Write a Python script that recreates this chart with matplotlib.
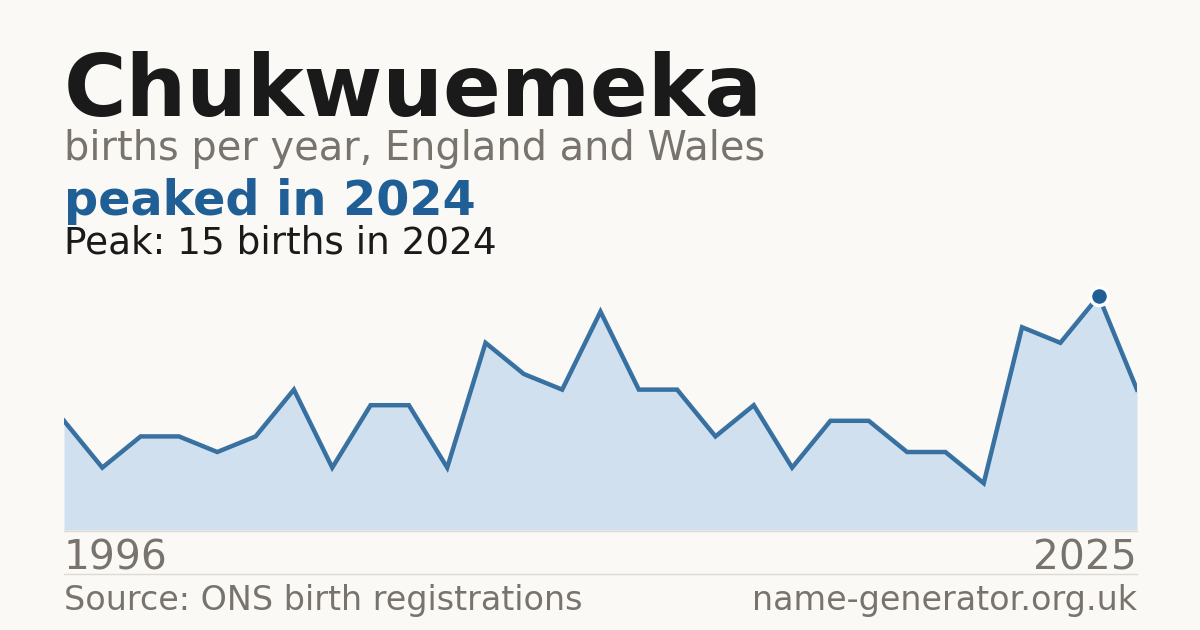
import matplotlib
matplotlib.use("Agg")
import matplotlib.pyplot as plt
from matplotlib.lines import Line2D

name = "Chukwuemeka"
subtitle = "births per year, England and Wales"
headline = "peaked in 2024"
peak_note = "Peak: 15 births in 2024"
first_year = "1996"
last_year = "2025"
source = "Source: ONS birth registrations"
site = "name-generator.org.uk"

# births per year (evenly spaced points)
births = [7, 4, 6, 6, 5, 6, 9, 4, 8, 8, 4, 12, 10, 9, 14,
          9, 9, 6, 8, 4, 7, 7, 5, 5, 3, 13, 12, 15, 9]
peak_index = 27

BG = "#faf9f5"
BLUE = "#1f5f96"
FILL = "#d0e0ef"
GREY = "#78736d"
DARK = "#1a1a1a"

W, H = 1200, 630


def fy(px):
    return 1 - px / H


fig = plt.figure(figsize=(W / 100, H / 100), dpi=100, facecolor=BG)

ax = fig.add_axes([64 / W, 1 - 530 / H, (1137 - 64) / W, 250 / H])
ax.set_facecolor(BG)
xs = list(range(len(births)))
ax.fill_between(xs, births, 0, color=FILL, lw=0)
ax.plot(xs, births, color=BLUE, lw=3.2, alpha=0.88, solid_joinstyle="miter")
ax.plot([peak_index], [births[peak_index]], "o", ms=13, color=BLUE,
        mec="white", mew=2.5, zorder=5)
ax.set_xlim(0, len(births) - 1)
ax.set_ylim(0, 15 * 250 / 234)
ax.axis("off")

# baseline and footer separator
fig.add_artist(Line2D([64 / W, 1137 / W], [fy(530.5), fy(530.5)], color="#dddad4", lw=1))
fig.add_artist(Line2D([64 / W, 1137 / W], [fy(574), fy(574)], color="#dddad4", lw=1))

x0 = 64 / W
fig.text(x0, fy(116), name, fontsize=61.5, fontweight="bold", color=DARK, va="baseline")
fig.text(x0, fy(160), subtitle, fontsize=28.7, color=GREY, va="baseline")
fig.text(x0, fy(215), headline, fontsize=34.4, fontweight="bold", color=BLUE, va="baseline")
fig.text(x0, fy(254), peak_note, fontsize=26.9, color=DARK, va="baseline")

fig.text(x0, fy(569), first_year, fontsize=29.3, color=GREY, va="baseline")
fig.text(1137 / W, fy(569), last_year, fontsize=29.3, color=GREY, va="baseline", ha="right")
fig.text(x0, fy(610), source, fontsize=24, color=GREY, va="baseline")
fig.text(1137 / W, fy(610), site, fontsize=24, color=GREY, va="baseline", ha="right")

fig.savefig("out.png", dpi=100, facecolor=BG)
